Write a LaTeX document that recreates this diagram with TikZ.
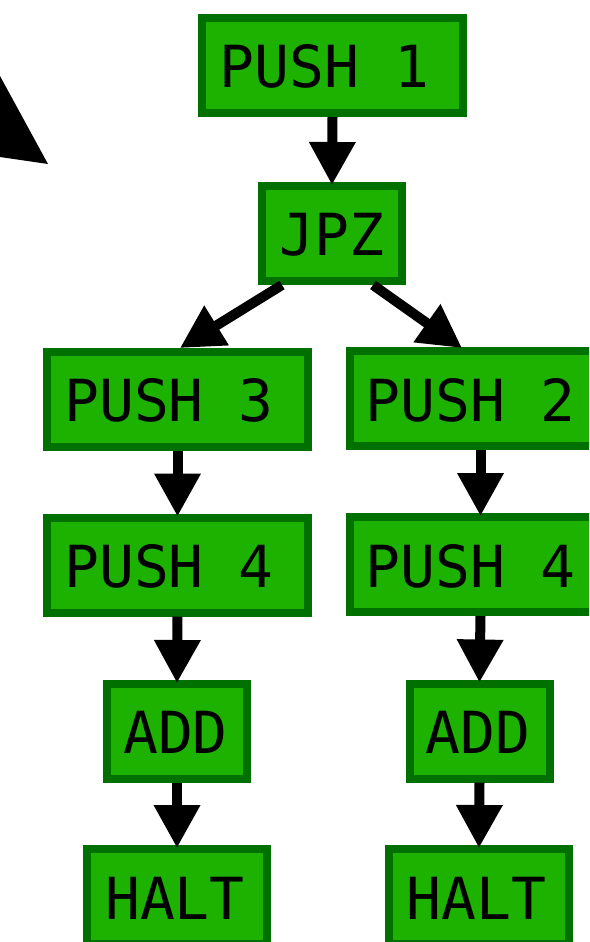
\documentclass[tikz,border=0pt]{standalone}
\usepackage{fontspec}
\setmonofont{DejaVu Sans Mono}
\usetikzlibrary{arrows.meta,calc}
\definecolor{boxfill}{RGB}{29,177,0}
\definecolor{boxline}{RGB}{0,112,0}
\begin{document}
\begin{tikzpicture}[x=1pt,y=-1pt,
  box/.style={draw=boxline,fill=boxfill,line width=8pt,inner sep=0pt,minimum height=95pt},
  wide/.style={box,minimum width=261pt},
  narrow/.style={box,minimum width=140pt},
  mid/.style={box,minimum width=180pt},
  lbl/.style={anchor=base,inner sep=0pt,font=\ttfamily\fontsize{58}{60}\selectfont},
  edge/.style={line width=10pt,-{Triangle[length=43pt,width=44pt]}},
  vedge/.style={edge,shorten >=-3pt}]
\useasboundingbox (0,0) rectangle (589,942);
\clip (0,0) rectangle (589,942);
\fill[black] (0,76) -- (48,164) -- (0,157) -- cycle;
% boxes
\node[wide]   (p1)    at (332.5,65.5) {};
\node[narrow] (jpz)   at (332,233.5) {};
\node[wide]   (p3)    at (177.5,399.5) {};
\node[wide]   (p4l)   at (177.5,565) {};
\node[narrow] (addl)  at (177,731.5) {};
\node[mid]    (haltl) at (177,896.5) {};
\node[wide]   (p2)    at (480.5,398.5) {};
\node[wide]   (p4r)   at (480.5,564.5) {};
\node[narrow] (addr)  at (479.5,731) {};
\node[mid]    (haltr) at (479,896.5) {};
% labels
\node[lbl] (t1) at (324.5,87) {PUSH 1};
\node[lbl] (t2) at (332,255) {JPZ};
\node[lbl] (t3) at (169,421) {PUSH 3};
\node[lbl] (t4) at (169,587) {PUSH 4};
\node[lbl] (t5) at (175.5,753) {ADD};
\node[lbl] (t6) at (175,919) {HALT};
\node[lbl] (t7) at (470.5,421) {PUSH 2};
\node[lbl] (t8) at (470.5,587) {PUSH 4};
\node[lbl] (t9) at (478,753) {ADD};
\node[lbl] (t10) at (476.5,919) {HALT};
% edges
\draw[vedge] (p1.south) -- (jpz.north);
\draw[edge] ($(jpz.south)+(-50,0)$) -- ($(p3.north)+(2.5,0)$);
\draw[edge] ($(jpz.south)+(41,0)$) -- ($(p2.north)+(-18.5,1)$);
\draw[vedge] (p3.south) -- (p4l.north);
\draw[vedge] (p4l.south) -- (addl.north);
\draw[vedge] (addl.south) -- (haltl.north);
\draw[vedge] (p2.south) -- (p4r.north);
\draw[vedge] (p4r.south) -- (addr.north);
\draw[vedge] (addr.south) -- (haltr.north);
\end{tikzpicture}
\end{document}
